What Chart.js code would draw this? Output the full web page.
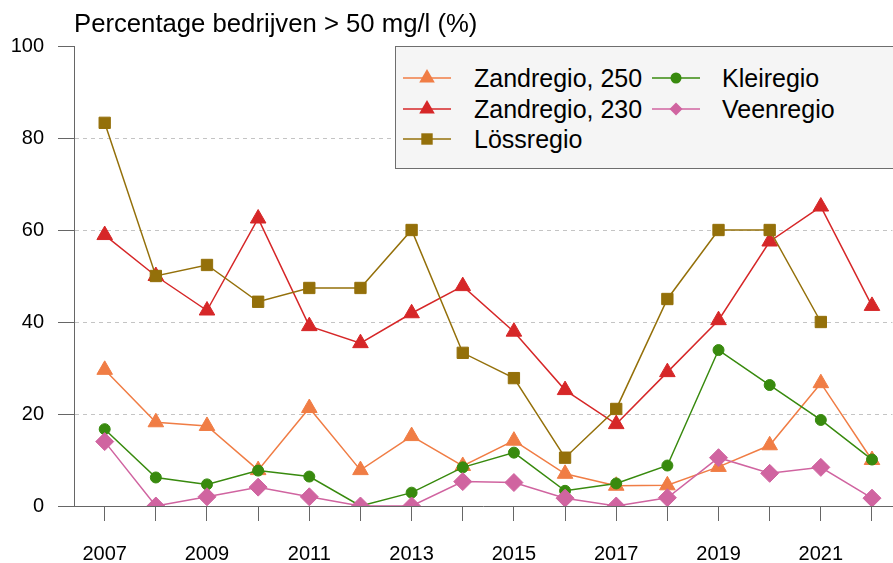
<!DOCTYPE html>
<html><head><meta charset="utf-8">
<script src="https://cdn.jsdelivr.net/npm/chart.js@4/dist/chart.umd.min.js"></script>
<style>
html,body{margin:0;padding:0;background:#fff;}
#wrap{position:relative;width:893px;height:563px;overflow:hidden;}
#legend{position:absolute;left:395px;top:46px;width:520px;height:123px;background:#f5f5f5;border:1px solid #6e6e6e;box-sizing:border-box;font-family:"Liberation Sans",Arial,sans-serif;font-size:25px;color:#000;}
.item{position:absolute;height:30px;}
.item svg{position:absolute;top:5px;}
.item span{position:absolute;top:0;line-height:30px;white-space:nowrap;}
</style></head>
<body>
<div id="wrap">
<canvas id="c" width="893" height="563"></canvas>
<div id="legend"></div>
</div>
<script>
const years = [2007,2008,2009,2010,2011,2012,2013,2014,2015,2016,2017,2018,2019,2020,2021,2022];
const xTickLabels = ['2007','2009','2011','2013','2015','2017','2019','2021'];
const yTickValues = [0,20,40,60,80,100];
const seriesNames = ['Zandregio, 250','Zandregio, 230','Lössregio','Kleiregio','Veenregio'];
const zand250 = [29.6,18.2,17.4,7.8,21.3,7.8,15.2,8.7,14.2,7.0,4.4,4.5,8.5,13.2,26.7,10.0];
const zand230 = [58.9,50.0,42.5,62.5,39.1,35.4,41.9,47.8,37.9,25.2,17.8,29.1,40.4,57.5,65.1,43.5];
const loss = [83.3,50.0,52.4,44.4,47.4,47.4,60.0,33.3,27.8,10.5,21.1,45.0,60.0,60.0,40.0,null];
const klei = [16.7,6.2,4.7,7.7,6.4,0,2.9,8.4,11.6,3.3,4.9,8.8,33.9,26.3,18.7,10.1];
const veen = [14.0,0,2.0,4.1,2.0,0,0,5.3,5.1,1.7,0,1.8,10.5,7.1,8.4,1.7];

const colors = ['#F07D45','#D62728','#94700A','#388A0E','#D064A0'];
const styles = ['triangle','triangle','rect','circle','rectRot'];
const radii = [9,9,8,5.5,9];
const allData = [zand250,zand230,loss,klei,veen];

const datasets = allData.map((arr,i)=>({
  label: seriesNames[i],
  data: years.map((y,j)=>({x:y,y:arr[j]})),
  borderColor: colors[i],
  backgroundColor: colors[i],
  pointBackgroundColor: colors[i],
  pointBorderColor: colors[i],
  pointBorderWidth: 1,
  pointStyle: styles[i],
  pointRadius: radii[i],
  borderWidth: 1.5,
  order: 5-i,
  spanGaps: false
}));

new Chart(document.getElementById('c'), {
  type: 'line',
  data: { datasets },
  options: {
    responsive: false,
    animation: false,
    devicePixelRatio: 1,
    layout: { padding: 0, autoPadding: false },
    plugins: {
      legend: { display: false },
      tooltip: { enabled: false },
      title: {
        display: true,
        text: 'Percentage bedrijven > 50 mg/l (%)',
        align: 'start',
        fullSize: false,
        color: '#000',
        font: { family: '"Liberation Sans", Arial, sans-serif', size: 25.7, weight: 'normal' },
        padding: { top: 9.5, bottom: 5.66 }
      }
    },
    scales: {
      x: {
        type: 'linear',
        min: 2006.4,
        max: 2022.4,
        afterBuildTicks: s => { s.ticks = years.map(v=>({value:v})); },
        afterFit: s => { s.height = 57; },
        grid: { drawOnChartArea: false, drawTicks: true, tickLength: 15, tickColor: '#666', tickWidth: 1 },
        border: { display: true, color: '#666', width: 1 },
        ticks: {
          autoSkip: false, maxRotation: 0, minRotation: 0, padding: 21,
          color: '#000',
          font: { family: '"Liberation Sans", Arial, sans-serif', size: 20 },
          callback: v => xTickLabels.includes(String(v)) ? String(v) : ''
        }
      },
      y: {
        min: 0, max: 100,
        afterBuildTicks: s => { s.ticks = yTickValues.map(v=>({value:v})); },
        afterFit: s => { s.width = 74; },
        grid: {
          drawTicks: true, tickLength: 16, tickColor: '#666', tickWidth: 1,
          color: ctx => (ctx.tick && (ctx.tick.value === 0 || ctx.tick.value === 100)) ? 'rgba(0,0,0,0)' : '#c4c4c4',
          lineWidth: 1, tickBorderDash: []
        },
        border: { display: true, color: '#666', width: 1, dash: [4,4] },
        ticks: {
          padding: 14, color: '#000',
          font: { family: '"Liberation Sans", Arial, sans-serif', size: 20 }
        }
      }
    }
  }
});

// HTML legend
const legendPos = [
  {col:0,row:0},{col:0,row:1},{col:0,row:2},{col:1,row:0},{col:1,row:1}
];
const rowCenters = [31,62,92];
const colSym = [7,256];
const colText = [78,326];
function markerSvg(i){
  const c = colors[i];
  let m = '';
  if (styles[i]==='triangle') m = `<polygon points="24,1 31.8,14.5 16.2,14.5" fill="${c}"/>`;
  else if (styles[i]==='rect') m = `<rect x="18.3" y="4.3" width="11.4" height="11.4" fill="${c}"/>`;
  else if (styles[i]==='circle') m = `<circle cx="24" cy="10" r="5.5" fill="${c}"/>`;
  else m = `<polygon points="24,3.5 30.5,10 24,16.5 17.5,10" fill="${c}"/>`;
  return `<svg width="48" height="20"><line x1="0" y1="10" x2="48" y2="10" stroke="${c}" stroke-width="1.5"/>${m}</svg>`;
}
const leg = document.getElementById('legend');
seriesNames.forEach((n,i)=>{
  const p = legendPos[i];
  const d = document.createElement('div');
  d.className = 'item';
  d.style.top = (rowCenters[p.row]-15)+'px';
  d.style.left = '0px';
  d.innerHTML = `<div style="position:absolute;left:${colSym[p.col]}px;top:0">${markerSvg(i)}</div><span style="left:${colText[p.col]}px">${n}</span>`;
  leg.appendChild(d);
});
</script>
</body></html>
